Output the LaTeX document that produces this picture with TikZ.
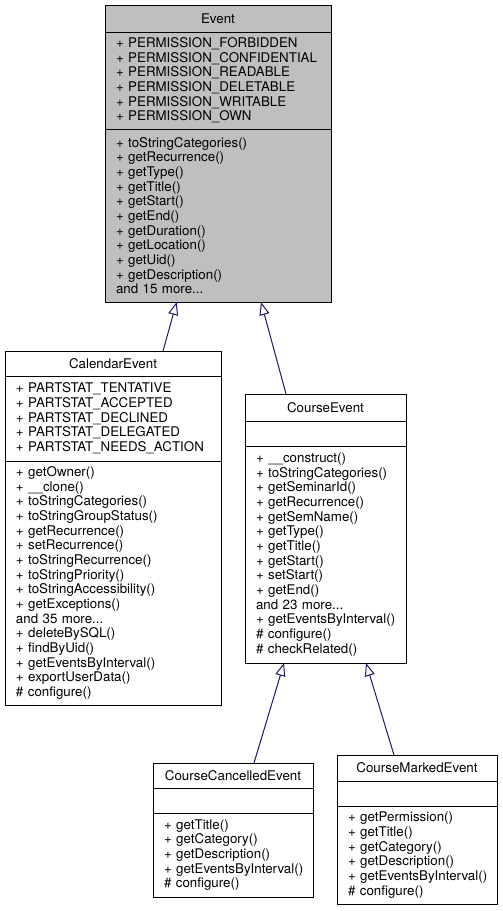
\documentclass[tikz,border=0pt]{standalone}
\usepackage{fontspec}
\setmainfont{TeX Gyre Heros}
\usepackage{tikz}
\usetikzlibrary{arrows.meta}
\definecolor{grey75}{RGB}{191,191,191}
\definecolor{midnightblue}{RGB}{25,25,112}

\begin{document}
\begin{tikzpicture}[x=0.75pt,y=0.75pt,yscale=-1,xscale=1,
  compartment/.style={draw=black, line width=0.75pt, rectangle, anchor=north west, outer sep=0pt, inner xsep=8.25pt, inner ysep=0pt, font=\fontsize{10}{11}\selectfont},
  part/.style={compartment, align=left,
    execute at begin node={\rightskip=0pt plus 1fil minus 12pt\relax\hyphenpenalty=10000\exhyphenpenalty=10000\relax}},
  title/.style={compartment, align=center},
  inherit/.style={draw=midnightblue, line width=0.75pt, -{Triangle[open, length=9.75pt, width=7.5pt]}}]
%uncomment if require: \path (0,911); %set diagram left start at 0, and has height of 911
\useasboundingbox (0,0) rectangle (503,911);

% Text Node
\node (eventTitle) [title, fill=grey75, text width=153pt, minimum height=20.25pt] at (105,5) {Event};
% Text Node
\node (eventAttrs) [part, fill=grey75, text width=153pt, minimum height=72.75pt] at (105,32) {+ PERMISSION\_FORBIDDEN\\+ PERMISSION\_CONFIDENTIAL\\+ PERMISSION\_READABLE\\+ PERMISSION\_DELETABLE\\+ PERMISSION\_WRITABLE\\+ PERMISSION\_OWN};
% Text Node
\node (eventOps) [part, fill=grey75, text width=153pt, minimum height=129.75pt] at (105,129) {+ toStringCategories()\\+ getRecurrence()\\+ getType()\\+ getTitle()\\+ getStart()\\+ getEnd()\\+ getDuration()\\+ getLocation()\\+ getUid()\\+ getDescription()\\and 15 more...};
% Text Node
\node (calendarTitle) [title, text width=145.5pt, minimum height=18.75pt] at (5,351) {CalendarEvent};
% Text Node
\node (calendarAttrs) [part, text width=145.5pt, minimum height=63.75pt] at (5,376) {+ PARTSTAT\_TENTATIVE\\+ PARTSTAT\_ACCEPTED\\+ PARTSTAT\_DECLINED\\+ PARTSTAT\_DELEGATED\\+ PARTSTAT\_NEEDS\_ACTION};
% Text Node
\node (calendarOps) [part, text width=145.5pt, minimum height=183pt] at (5,461) {+ getOwner()\\+ \_\_clone()\\+ toStringCategories()\\+ toStringGroupStatus()\\+ getRecurrence()\\+ setRecurrence()\\+ toStringRecurrence()\\+ toStringPriority()\\+ toStringAccessibility()\\+ getExceptions()\\and 35 more...\\+ deleteBySQL()\\+ findByUid()\\+ getEventsByInterval()\\+ exportUserData()\\\# configure()};
% Text Node
\node (courseTitle) [title, text width=104.25pt, minimum height=20.25pt] at (245,394) {CourseEvent};
% Text Node
\node (courseAttrs) [part, text width=104.25pt, minimum height=18.75pt] at (245,421) {};
% Text Node
\node (courseOps) [part, text width=104.25pt, minimum height=162.75pt] at (245,446) {+ \_\_construct()\\+ toStringCategories()\\+ getSeminarId()\\+ getRecurrence()\\+ getSemName()\\+ getType()\\+ getTitle()\\+ getStart()\\+ setStart()\\+ getEnd()\\and 23 more...\\+ getEventsByInterval()\\\# configure()\\\# checkRelated()};
% Text Node
\node (cancelledTitle) [title, text width=103.5pt, minimum height=18.75pt] at (153,763) {CourseCancelledEvent};
% Text Node
\node (cancelledAttrs) [part, text width=103.5pt, minimum height=18.75pt] at (153,788) {};
% Text Node
\node (cancelledOps) [part, text width=103.5pt, minimum height=63pt] at (153,813) {+ getTitle()\\+ getCategory()\\+ getDescription()\\+ getEventsByInterval()\\\# configure()};
% Text Node
\node (markedTitle) [title, text width=103.5pt, minimum height=19.5pt] at (337,755) {CourseMarkedEvent};
% Text Node
\node (markedAttrs) [part, text width=103.5pt, minimum height=18.75pt] at (337,781) {};
% Text Node
\node (markedOps) [part, text width=103.5pt, minimum height=73.5pt] at (337,806) {+ getPermission()\\+ getTitle()\\+ getCategory()\\+ getDescription()\\+ getEventsByInterval()\\\# configure()};
% Connection
\draw [inherit] ([xshift=37.5pt]calendarTitle.north) -- ([xshift=-31pt]eventOps.south);
% Connection
\draw [inherit] ([xshift=-29.6pt]courseTitle.north) -- ([xshift=32.25pt]eventOps.south);
% Connection
\draw [inherit] ([xshift=15.75pt]cancelledTitle.north) -- ([xshift=-31.1pt]courseOps.south);
% Connection
\draw [inherit] ([xshift=-17.25pt]markedTitle.north) -- ([xshift=30.4pt]courseOps.south);

\end{tikzpicture}
\end{document}
